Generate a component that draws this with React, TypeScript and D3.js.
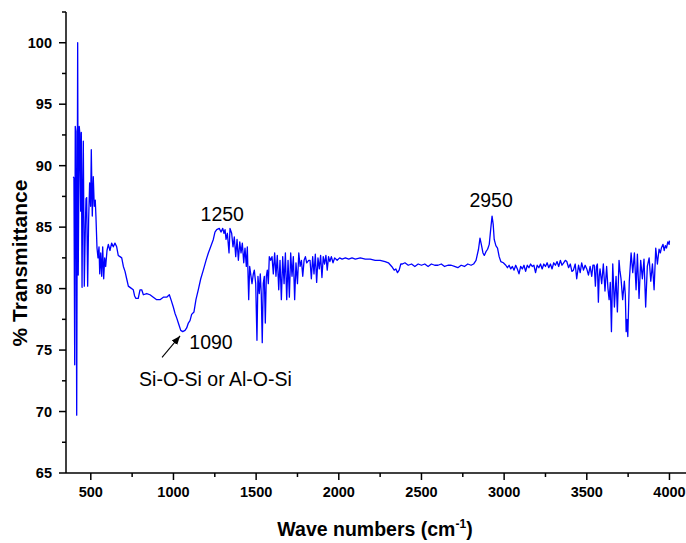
import React from 'react';
import * as d3 from 'd3';

// FTIR spectrum
const waveNumbers = [
  394, 398, 402.6, 406, 410, 414.7, 420.6, 424, 430, 434, 438.7, 442.6, 447, 451, 454.7, 460.7, 467, 471, 475, 481,
  487, 493, 499, 503, 509, 515, 521, 527, 531, 537.5, 543.6, 549.6, 554, 560, 566, 572, 578, 584, 590, 598,
  606, 616, 626, 636, 646, 656.5, 666, 676.6, 687, 697, 707, 717, 727, 737, 757, 765, 773, 787, 797.6, 808,
  818, 838, 858, 878, 898.6, 918.6, 938.6, 959, 975, 985, 999, 1009, 1020, 1029.5, 1044, 1056, 1070, 1080, 1090, 1100,
  1110, 1124, 1136, 1150, 1165, 1180.5, 1197, 1211, 1225, 1241, 1251, 1261.5, 1277, 1287.6, 1298, 1305.6, 1312, 1318, 1326, 1336,
  1342, 1352, 1360, 1368, 1376.5, 1384.5, 1392.5, 1401, 1408.6, 1416.5, 1425, 1432.7, 1440.7, 1446.7, 1455, 1461, 1467, 1475, 1483, 1489,
  1497.5, 1505, 1511, 1519, 1525, 1531, 1537, 1543, 1549.5, 1555.5, 1561.6, 1567.6, 1573.7, 1579.7, 1588, 1596, 1604, 1612, 1620, 1628,
  1636.6, 1644.5, 1652.6, 1660.7, 1669, 1677, 1685, 1693, 1701, 1709, 1717, 1725, 1733, 1741, 1750, 1758, 1766, 1774, 1782, 1790,
  1798, 1806, 1818, 1826, 1834, 1842, 1850, 1858, 1866, 1874, 1882, 1890, 1898, 1906, 1914, 1922, 1930, 1938, 1946, 1955,
  1965, 1975, 1990, 2005, 2020, 2040, 2060, 2080, 2100, 2130, 2160, 2190, 2220, 2250, 2280, 2300, 2320, 2335, 2345, 2355,
  2365, 2375, 2385, 2400, 2420, 2440, 2460, 2480, 2500, 2520, 2540, 2560, 2580, 2600, 2620, 2640, 2660, 2680, 2700, 2720,
  2740, 2760, 2780, 2800, 2815, 2830, 2845, 2854, 2862, 2872, 2880, 2890, 2900, 2910, 2920, 2927, 2934, 2940, 2950, 2960,
  2970, 2980, 2995, 3010, 3020, 3030, 3040, 3050, 3060, 3070, 3080, 3090, 3100, 3110, 3120, 3130, 3140, 3150, 3160, 3170,
  3180, 3190, 3200, 3210, 3220, 3230, 3240, 3250, 3260, 3270, 3280, 3290, 3300, 3310, 3320, 3330, 3340, 3350, 3360, 3370,
  3379, 3390, 3400, 3410, 3419, 3430, 3439, 3450, 3460, 3469, 3480, 3490, 3500, 3510, 3520, 3530, 3537, 3545, 3552, 3558,
  3564, 3570, 3575, 3580, 3590, 3600, 3610, 3620, 3628, 3635, 3642, 3649, 3657, 3667, 3677, 3685, 3695, 3700, 3707, 3717,
  3727, 3733, 3738, 3743, 3748, 3757, 3768, 3778, 3788, 3798, 3806, 3816, 3826, 3836, 3846, 3856, 3866, 3877, 3887, 3897,
  3907, 3917, 3927, 3937, 3945, 3951, 3961, 3968, 3975, 3982, 3990, 3998, 4000,
];

const transmittance = [
  89.1, 89.0, 73.8, 93.2, 92.8, 69.7, 100, 81.1, 93.2, 92.6, 86.3, 92.7, 80.1, 87.9, 92.0, 80.2, 85.0, 87.3, 87.4, 80.2,
  85.6, 88.6, 86.7, 91.3, 85.9, 89.1, 86.7, 87.2, 85.9, 83.3, 82.5, 83.4, 81.2, 82.9, 81.0, 83.4, 80.8, 82.5, 81.8, 83.1,
  83.6, 83.1, 83.7, 83.4, 83.7, 83.4, 82.7, 82.6, 82.5, 81.8, 81.4, 80.8, 80.2, 80.1, 79.9, 79.4, 79.2, 79.2, 79.9, 79.9,
  79.5, 79.6, 79.5, 79.3, 79.1, 79.1, 79.3, 79.3, 79.5, 79.1, 78.5, 78.0, 77.6, 77.2, 76.6, 76.5, 76.6, 76.8, 77.2, 77.4,
  77.9, 78.1, 79.1, 79.9, 80.8, 81.5, 82.3, 82.9, 83.4, 84.0, 84.6, 84.8, 84.9, 84.6, 84.9, 84.5, 84.8, 84.0, 84.5, 82.9,
  84.9, 84.5, 83.4, 84.2, 82.6, 84.0, 82.3, 83.8, 82.9, 83.7, 82.1, 83.3, 81.8, 83.4, 79.1, 81.8, 81.2, 80.4, 81.2, 81.5,
  80.4, 75.8, 81.0, 79.6, 81.2, 79.6, 75.6, 80.4, 81.0, 77.2, 81.0, 81.5, 80.4, 82.6, 82.3, 82.6, 81.2, 82.9, 81.0, 82.7,
  79.9, 82.3, 79.1, 82.6, 80.4, 82.9, 79.1, 82.3, 79.3, 82.9, 81.0, 82.6, 79.1, 82.1, 80.4, 82.9, 81.8, 82.3, 81.0, 82.3,
  82.6, 82.1, 82.3, 82.3, 80.8, 82.6, 81.2, 82.8, 80.5, 82.5, 81.6, 82.7, 80.9, 82.6, 82.0, 82.7, 81.5, 82.6, 82.2, 82.6,
  82.1, 82.5, 82.3, 82.5, 82.4, 82.5, 82.4, 82.5, 82.4, 82.5, 82.4, 82.4, 82.3, 82.3, 82.2, 82.1, 81.8, 81.5, 81.6, 81.3,
  81.5, 82.0, 82.0, 82.1, 81.9, 82.0, 81.8, 82.0, 81.9, 82.0, 81.8, 82.0, 81.9, 81.9, 82.0, 81.8, 81.9, 81.9, 81.8, 81.7,
  81.9, 81.8, 82.0, 81.9, 82.0, 82.3, 83.2, 84.1, 83.6, 82.9, 82.7, 83.0, 83.2, 83.6, 85.0, 85.9, 85.2, 84.0, 83.5, 83.3,
  82.6, 82.2, 82.1, 81.9, 81.7, 81.9, 81.6, 81.8, 81.5, 81.9, 81.6, 81.2, 81.8, 81.6, 81.9, 81.4, 81.9, 81.7, 82.0, 81.8,
  81.9, 81.3, 81.9, 81.7, 82.0, 81.6, 82.0, 81.8, 82.1, 81.7, 82.0, 81.6, 82.1, 81.9, 82.2, 81.8, 82.3, 81.9, 82.1, 82.3,
  82.2, 81.7, 82.0, 81.4, 81.5, 82.0, 80.8, 81.9, 81.3, 82.1, 81.5, 81.9, 81.6, 81.1, 81.8, 81.0, 81.9, 81.9, 80.2, 81.8,
  82.0, 78.9, 81.0, 81.6, 80.4, 82.0, 79.8, 81.8, 80.0, 79.1, 80.5, 76.5, 82.0, 78.5, 81.0, 78.1, 82.3, 81.5, 80.8, 79.1,
  80.6, 79.5, 76.5, 77.5, 76.1, 80.6, 82.9, 81.3, 82.9, 79.9, 82.8, 79.2, 82.3, 80.8, 82.4, 78.5, 81.8, 82.5, 80.6, 82.0,
  79.9, 83.3, 82.0, 83.2, 82.9, 83.3, 83.6, 83.1, 83.5, 83.3, 83.8, 83.6, 83.9,
];

const xMajorTicks = [500, 1000, 1500, 2000, 2500, 3000, 3500, 4000];
const xMinorTicks = [750, 1250, 1750, 2250, 2750, 3250, 3750];
const yMajorTicks = [65, 70, 75, 80, 85, 90, 95, 100];
const yMinorTicks = [67.5, 72.5, 77.5, 82.5, 87.5, 92.5, 97.5, 102.5];

const peakLabels = [
  { text: '1250', x: 1295, y: 85.5, anchor: 'middle' },
  { text: '2950', x: 2921, y: 86.6, anchor: 'middle' },
  { text: '1090', x: 1096, y: 75.1, anchor: 'start' },
  { text: 'Si-O-Si or Al-O-Si', x: 792, y: 72.1, anchor: 'start' },
];
const arrowFrom = [931, 74.4];
const arrowTo = [1040, 76.15];

const W = 686;
const H = 543;
const FONT = '"Liberation Sans", Arial, Helvetica, sans-serif';

export default function App() {
  const x = d3.scaleLinear().domain([350, 4100]).range([66, 686]);
  const y = d3.scaleLinear().domain([65, 102.5]).range([473, 12]);
  const pts: [number, number][] = waveNumbers.map((w, i) => [w, transmittance[i]]);
  const line = d3
    .line<[number, number]>()
    .x((d) => x(d[0]))
    .y((d) => y(d[1]));
  const x0 = x.range()[0];
  const y0 = y.range()[0];

  return (
    <svg
      width={W}
      height={H}
      style={{ position: 'absolute', left: 0, top: 0, background: '#fff' }}
      fontFamily={FONT}
    >
      <defs>
        <marker id="ah" viewBox="0 0 10 10" refX="10" refY="5" markerWidth="8" markerHeight="8" orient="auto">
          <path d="M0,1 L10,5 L0,9 Z" fill="#000" />
        </marker>
      </defs>
      <path d={line(pts) || ''} fill="none" stroke="#0000ff" strokeWidth={1.3} strokeLinejoin="round" />

      {/* axes */}
      <line x1={x0} x2={x.range()[1]} y1={y0} y2={y0} stroke="#000" strokeWidth={1.5} />
      <line x1={x0} x2={x0} y1={y0} y2={y.range()[1]} stroke="#000" strokeWidth={1.5} />
      {xMajorTicks.map((t) => (
        <g key={'xt' + t}>
          <line x1={x(t)} x2={x(t)} y1={y0} y2={y0 + 7} stroke="#000" strokeWidth={1.5} />
          <text x={x(t)} y={497} textAnchor="middle" fontSize={14.5} fontWeight="bold" fill="#000">
            {t}
          </text>
        </g>
      ))}
      {xMinorTicks.map((t) => (
        <line key={'xm' + t} x1={x(t)} x2={x(t)} y1={y0} y2={y0 + 4} stroke="#000" strokeWidth={1.5} />
      ))}
      {yMajorTicks.map((t) => (
        <g key={'yt' + t}>
          <line x1={x0 - 7} x2={x0} y1={y(t)} y2={y(t)} stroke="#000" strokeWidth={1.5} />
          <text x={52} y={y(t)} dy="0.36em" textAnchor="end" fontSize={14.5} fontWeight="bold" fill="#000">
            {t}
          </text>
        </g>
      ))}
      {yMinorTicks.map((t) => (
        <line key={'ym' + t} x1={x0 - 4} x2={x0} y1={y(t)} y2={y(t)} stroke="#000" strokeWidth={1.5} />
      ))}

      {/* axis titles */}
      <text x={375} y={536} textAnchor="middle" fontSize={19.5} fontWeight="bold" fill="#000">
        Wave numbers (cm
        <tspan fontSize={12} dy={-8}>-1</tspan>
        <tspan dy={8}>)</tspan>
      </text>
      <text
        transform="translate(26.5,263) rotate(-90)"
        textAnchor="middle"
        fontSize={21}
        fontWeight="bold"
        fill="#000"
      >
        % Transmittance
      </text>

      {/* annotations */}
      {peakLabels.map((p) => (
        <text key={p.text} x={x(p.x)} y={y(p.y)} textAnchor={p.anchor as any} fontSize={19.5} fill="#000">
          {p.text}
        </text>
      ))}
      <line
        x1={x(arrowFrom[0])}
        y1={y(arrowFrom[1])}
        x2={x(arrowTo[0])}
        y2={y(arrowTo[1])}
        stroke="#000"
        strokeWidth={1.1}
        markerEnd="url(#ah)"
      />
    </svg>
  );
}
